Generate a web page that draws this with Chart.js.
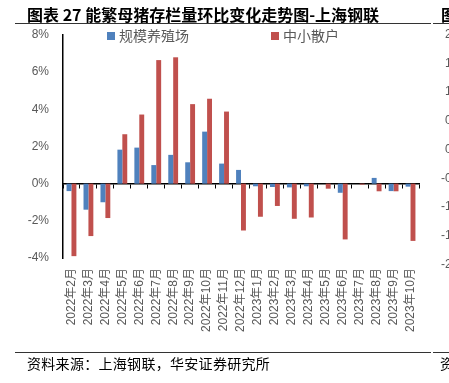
<!DOCTYPE html>
<html>
<head>
<meta charset="utf-8">
<script src="https://cdn.jsdelivr.net/npm/chart.js@4/dist/chart.umd.min.js"></script>
<style>
  html, body { margin: 0; padding: 0; background: #fff; width: 449px; height: 383px; overflow: hidden; position: relative; }
  canvas { position: absolute; left: 0; top: 0; }
  .t { position: absolute; white-space: nowrap; font-family: "Noto Sans CJK SC", sans-serif; color: #000; }
  .title { left: 27px; top: 4px; font-size: 16px; font-weight: bold; line-height: 20px; }
  .foot { left: 27px; top: 355px; font-size: 14px; line-height: 16px; letter-spacing: 0.3px; }
  .rule { position: absolute; height: 1px; background: #333; }
  .nb { position: absolute; font-family: "Liberation Sans", sans-serif; font-size: 12px; color: #595959; line-height: 14px; white-space: nowrap; }
</style>
</head>
<body>
<canvas id="c" width="449" height="383"></canvas>
<div class="t title">图表 27 能繁母猪存栏量环比变化走势图-上海钢联</div>
<div class="t title" style="left:441px;">图</div>
<div class="rule" style="left:15px; top:23px; width:416px;"></div>
<div class="rule" style="left:433px; top:23px; width:16px;"></div>
<div class="rule" style="left:15px; top:352px; width:416px;"></div>
<div class="rule" style="left:433px; top:352px; width:16px;"></div>
<div class="t foot">资料来源：上海钢联，华安证券研究所</div>
<div class="t foot" style="left:440px;">资</div>
<div id="nb"></div>
<script>
// Category labels (months)
const categories = [
  '2022年2月','2022年3月','2022年4月','2022年5月','2022年6月','2022年7月','2022年8月',
  '2022年9月','2022年10月','2022年11月','2022年12月','2023年1月','2023年2月','2023年3月',
  '2023年4月','2023年5月','2023年6月','2023年7月','2023年8月','2023年9月','2023年10月'
];
// Series names
const seriesNames = ['规模养殖场', '中小散户'];
// Month-on-month change (%), large-scale farms
const largeFarms = [-0.4, -1.4, -1.0, 1.83, 1.94, 1.0, 1.55, 1.15, 2.8, 1.08, 0.74, -0.14, -0.18, -0.2, -0.14, 0, -0.49, 0, 0.31, -0.4, -0.16];
// Month-on-month change (%), small & medium households
const smallFarms = [-3.9, -2.82, -1.85, 2.66, 3.72, 6.65, 6.8, 4.28, 4.57, 3.88, -2.52, -1.78, -1.2, -1.89, -1.82, -0.27, -3.0, -0.05, -0.41, -0.41, -3.08];
// Y tick range
const yMin = -4, yMax = 8, yStep = 2;
// Partially visible neighbouring chart's tick labels (clipped at right edge)
const neighbourTicks = ['2', '1', '1', '0', '0', '-0', '-1', '-1', '-2'];

const nb = document.getElementById('nb');
neighbourTicks.forEach((t, i) => {
  const d = document.createElement('div');
  d.className = 'nb';
  d.textContent = t + (t.length === 1 ? '.5%' : '.5%');
  d.style.left = (t.startsWith('-') ? 441 : 445) + 'px';
  d.style.top = (27 + i * 28.7) + 'px';
  nb.appendChild(d);
});

const legendPlugin = {
  id: 'customLegend',
  afterDraw(chart, args, opts) {
    const ctx = chart.ctx;
    ctx.save();
    ctx.font = '14px "Noto Sans CJK SC", sans-serif';
    ctx.textBaseline = 'middle';
    ctx.textAlign = 'left';
    chart.data.datasets.forEach((ds, i) => {
      const x = opts.xs[i];
      ctx.fillStyle = ds.backgroundColor;
      ctx.fillRect(x, opts.y - 4, 8, 8);
      ctx.fillStyle = '#595959';
      ctx.fillText(ds.label, x + 12, opts.y);
    });
    ctx.restore();
  }
};

const tickFont = { family: '"Liberation Sans", "Noto Sans CJK SC", sans-serif', size: 12 };

new Chart(document.getElementById('c'), {
  type: 'bar',
  data: {
    labels: categories,
    datasets: [
      { label: seriesNames[0], data: largeFarms, backgroundColor: '#4F81BD', categoryPercentage: 0.58, barPercentage: 1, xAxisID: 'x' },
      { label: seriesNames[1], data: smallFarms, backgroundColor: '#C0504D', categoryPercentage: 0.58, barPercentage: 1, xAxisID: 'x' }
    ]
  },
  options: {
    responsive: false,
    devicePixelRatio: 1,
    animation: false,
    layout: { padding: { left: 0, right: 30, top: 35, bottom: 45 } },
    plugins: {
      legend: { display: false },
      tooltip: { enabled: false },
      customLegend: { xs: [107, 271], y: 36 }
    },
    scales: {
      y: {
        min: yMin, max: yMax,
        ticks: { stepSize: yStep, callback: v => v + '%', color: '#595959', font: tickFont, padding: 14 },
        grid: { display: false, drawTicks: false },
        border: { display: true, color: '#000', width: 1.5 },
        afterFit: s => { s.width = 63; }
      },
      x: {
        type: 'category',
        position: { y: 0 },
        offset: true,
        grid: { display: true, drawOnChartArea: false, drawTicks: true, tickLength: 4, color: '#000', lineWidth: 1, offset: true },
        ticks: { display: false },
        border: { display: true, color: '#000', width: 1.5 }
      },
      x2: {
        type: 'category',
        position: 'bottom',
        offset: true,
        grid: { display: false, drawTicks: false },
        border: { display: false },
        ticks: { autoSkip: false, maxRotation: 90, minRotation: 90, padding: 10, color: '#595959', font: tickFont },
        afterFit: s => { s.height = 80; }
      }
    }
  },
  plugins: [legendPlugin]
});
</script>
</body>
</html>
